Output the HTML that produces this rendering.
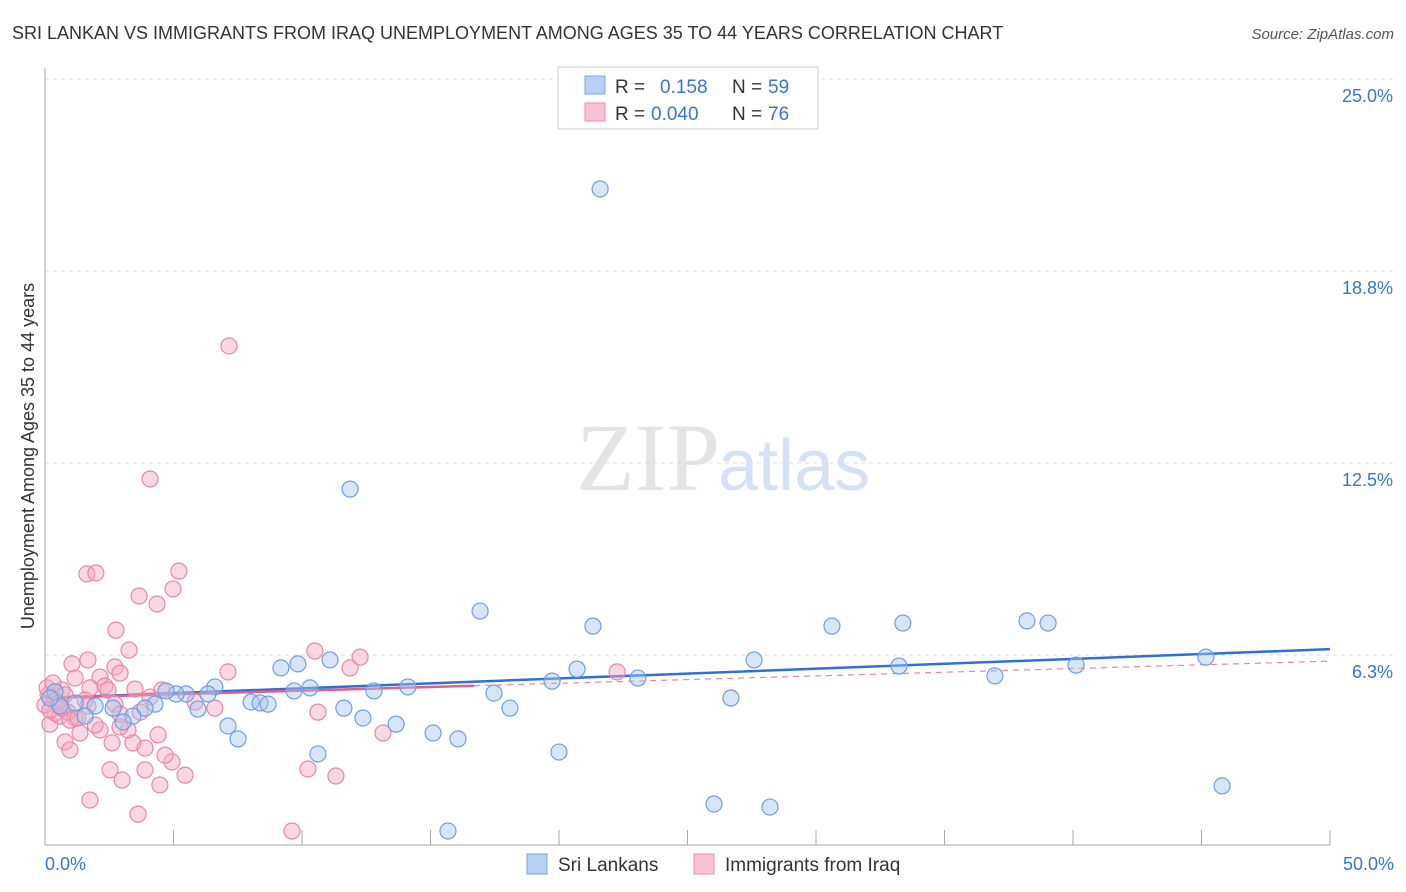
<!DOCTYPE html>
<html><head><meta charset="utf-8"><style>
body{margin:0;background:#fff;font-family:"Liberation Sans",sans-serif}
#wrap{position:relative;width:1406px;height:892px}
</style></head><body><div id="wrap">
<svg id="chart" width="1406" height="892" style="position:absolute;left:0;top:0">
<text x="12" y="39" font-size="18" fill="#333">SRI LANKAN VS IMMIGRANTS FROM IRAQ UNEMPLOYMENT AMONG AGES 35 TO 44 YEARS CORRELATION CHART</text>
<text x="1394" y="39" font-size="15" fill="#555" font-style="italic" text-anchor="end">Source: ZipAtlas.com</text>
<text x="720" y="490" font-size="96" fill="#e4e4e4" text-anchor="end" font-family="Liberation Serif,serif">ZIP</text>
<text x="718" y="490" font-size="72" fill="#d5e2f5">atlas</text>
<text transform="translate(34,456) rotate(-90)" font-size="18" fill="#333" text-anchor="middle">Unemployment Among Ages 35 to 44 years</text>
<g id="grid"></g><g id="axes"></g><g id="trend"></g><g id="pts"></g>
<g>
<rect x="558" y="67" width="260" height="62" fill="#fff" stroke="#ccc"/>
<rect x="585" y="76" width="20" height="18" fill="#b7d0f3" stroke="#7aa6e2"/>
<text x="615" y="93" font-size="19" fill="#333">R = </text><text x="660" y="93" font-size="19" fill="#3a73d0">0.158</text>
<text x="732" y="93" font-size="19" fill="#333">N = </text><text x="768" y="93" font-size="19" fill="#3a73d0">59</text>
<rect x="585" y="103" width="20" height="18" fill="#f8c3d3" stroke="#ec8fae"/>
<text x="615" y="120" font-size="19" fill="#333">R = </text><text x="651" y="120" font-size="19" fill="#3a73d0">0.040</text>
<text x="732" y="120" font-size="19" fill="#333">N = </text><text x="768" y="120" font-size="19" fill="#3a73d0">76</text>
</g>
<g>
<rect x="527" y="854" width="20" height="20" fill="#b7d0f3" stroke="#7aa6e2"/>
<text x="558" y="871" font-size="19" fill="#333">Sri Lankans</text>
<rect x="694" y="854" width="20" height="20" fill="#f8c3d3" stroke="#ec8fae"/>
<text x="725" y="871" font-size="19" fill="#333">Immigrants from Iraq</text>
</g>
</svg>
<script>
const yTicks=[6.25,12.5,18.75,25];
const yTickLabels=["6.3%","12.5%","18.8%","25.0%"];
const xTickVals=[0,5,10,15,20,25,30,35,40,45,50];
const blueX=[21.6,11.87,16.93,21.32,30.62,33.38,38.21,39.03,27.59,33.23,40.12,45.17,36.96,20.7,19.73,23.07,17.47,18.09,26.69,20.0,15.1,16.07,15.68,26.03,28.21,45.8,11.09,9.84,9.18,10.31,9.69,12.8,14.12,11.63,12.37,13.66,10.62,6.61,6.34,5.49,5.10,4.71,4.28,3.89,5.95,8.02,8.37,8.68,7.12,7.51,3.42,3.04,2.65,1.95,1.56,1.17,0.58,0.39,0.19];
const blueY=[21.42,11.65,7.68,7.19,7.19,7.29,7.36,7.29,6.09,5.89,5.92,6.18,5.57,5.79,5.40,5.50,5.01,4.52,4.85,3.09,3.71,3.52,0.52,1.40,1.30,1.99,6.09,5.96,5.83,5.18,5.08,5.08,5.21,4.52,4.20,4.00,3.03,5.21,4.98,4.98,4.98,5.08,4.65,4.52,4.49,4.72,4.69,4.65,3.94,3.52,4.26,4.07,4.52,4.59,4.26,4.69,4.59,5.05,4.85];
const pinkX=[7.16,4.09,1.63,1.98,5.21,4.98,3.66,4.36,2.76,3.27,1.05,1.67,2.72,2.92,2.14,1.17,2.33,0.66,0.12,0.39,0.78,1.75,3.5,4.09,4.55,5.84,6.61,7.12,10.5,11.87,12.26,10.62,13.15,22.26,10.23,11.32,9.61,3.62,1.75,2.53,3.89,4.47,5.45,4.94,4.67,3.89,3.42,2.61,3.23,2.14,1.36,0.78,0.97,0.19,0.39,0.58,1.17,1.95,2.92,0.0,0.19,0.51,0.89,1.56,2.72,3.7,0.08,0.31,0.97,3.0,1.28,2.45,1.67,0.66,4.4,2.92];
const pinkY=[16.31,11.98,8.89,8.92,8.98,8.40,8.17,7.91,7.06,6.41,5.96,6.09,5.86,5.66,5.53,5.50,5.24,5.11,4.95,4.78,4.95,5.18,5.14,4.88,5.11,4.72,4.52,5.70,6.38,5.83,6.18,4.39,3.71,5.70,2.54,2.31,0.52,1.07,1.53,2.51,2.51,2.02,2.34,2.77,2.99,3.22,3.39,3.39,3.81,3.81,3.71,3.42,3.16,4.00,4.36,4.26,4.20,3.97,3.91,4.62,4.46,4.69,4.39,4.78,4.65,4.39,5.18,5.34,4.13,2.18,4.20,5.11,4.59,4.52,3.65,4.33];
const blueTrend=[4.85,6.44];
const pinkTrend=[4.85,6.05];
const pinkSolidEnd=16.7;
const NS="http://www.w3.org/2000/svg";
const X=v=>45+v/50*1285, Y=v=>847-v/6.25*192;
function mk(tag,attrs,parent){const e=document.createElementNS(NS,tag);for(const k in attrs)e.setAttribute(k,attrs[k]);document.getElementById(parent).appendChild(e);return e;}
yTicks.forEach((t,i)=>{
 const l=mk('line',{x1:45,x2:1394,y1:Y(t),y2:Y(t),stroke:'#ddd','stroke-dasharray':'4,4'},'grid');
 
 
 const tx=mk('text',{x:1393,y:Y(t)+23,'font-size':18,fill:'#3a73d0','text-anchor':'end'},'grid');
 tx.textContent=yTickLabels[i];
 
 
});
const ax=mk('line',{x1:45,x2:1330,y1:845,y2:845,stroke:'#aaa'},'axes');


const ay=mk('line',{x1:45,x2:45,y1:68,y2:845,stroke:'#aaa'},'axes');


xTickVals.forEach(v=>{
 const t=mk('line',{x1:X(v),x2:X(v),y1:830,y2:845,stroke:'#aaa'},'axes');
 
 
});
[[0,"0.0%","start",45],[50,"50.0%","end",1394]].forEach(([v,s,a,x])=>{
 const t=mk('text',{x:x,y:870,'font-size':18,fill:'#3a73d0','text-anchor':a},'axes');
 t.textContent=s;
 
 
});
function dot(x,y,fill,stroke,name){
 const c=mk('circle',{cx:X(x),cy:Y(y),r:8,fill:fill,'fill-opacity':0.45,stroke:stroke,'stroke-width':1.2},'pts');
 
 
}
pinkX.forEach((x,i)=>dot(x,pinkY[i],'#f4a9c0','#e887a6','iraq-point'));
blueX.forEach((x,i)=>dot(x,blueY[i],'#a9c6ee','#6f9fe0','sri-lankan-point'));
const bt=mk('line',{x1:X(0),y1:Y(blueTrend[0]),x2:X(50),y2:Y(blueTrend[1]),stroke:'#2f6fd6','stroke-width':2.5},'trend');


const pe=pinkTrend[0]+(pinkTrend[1]-pinkTrend[0])*pinkSolidEnd/50;
const pd=mk('line',{x1:X(pinkSolidEnd),y1:Y(pe),x2:X(50),y2:Y(pinkTrend[1]),stroke:'#e887a6','stroke-width':1.2,'stroke-dasharray':'6,5'},'trend');


const ps=mk('line',{x1:X(0),y1:Y(pinkTrend[0]),x2:X(pinkSolidEnd),y2:Y(pe),stroke:'#e0608a','stroke-width':2.5},'trend');


</script>
</div></body></html>
